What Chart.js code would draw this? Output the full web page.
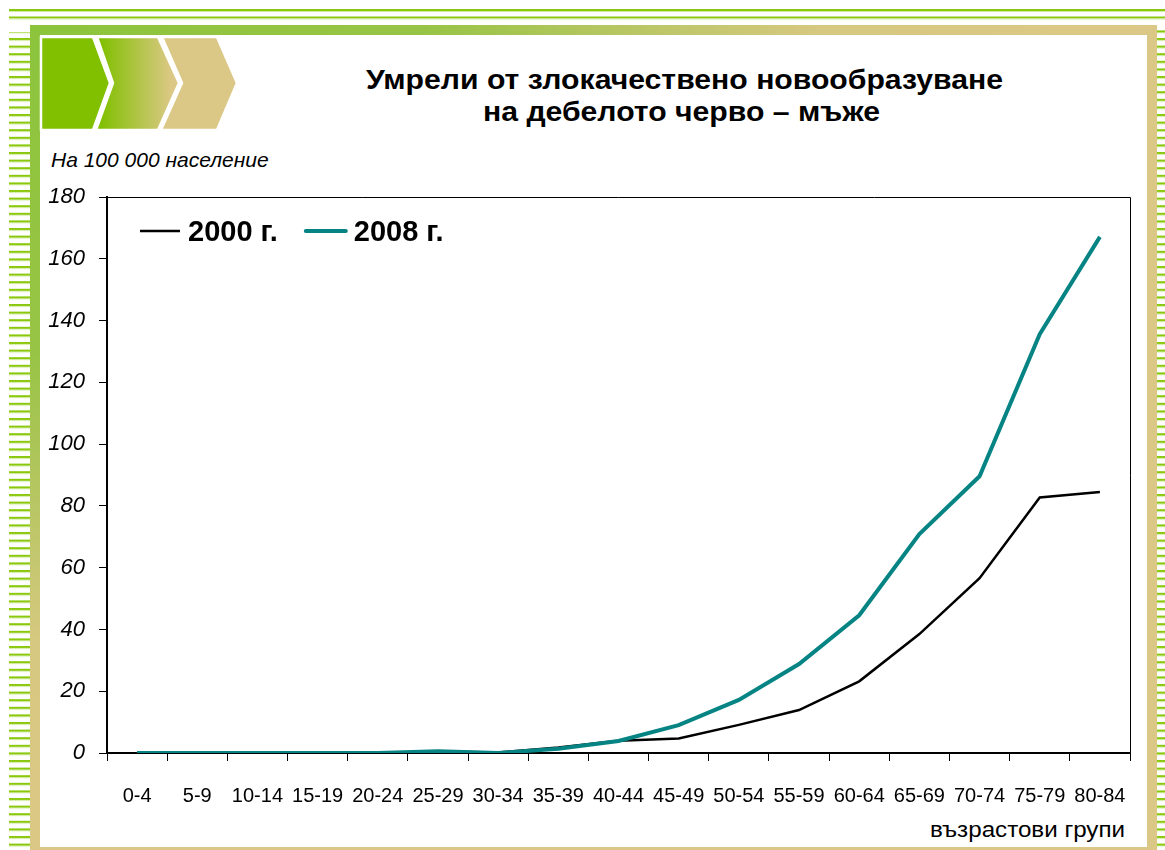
<!DOCTYPE html>
<html>
<head>
<meta charset="utf-8">
<script src="https://cdn.jsdelivr.net/npm/chart.js@4"></script>
<style>
  body { margin: 0; background: #fff; }
  #page { position: relative; width: 1165px; height: 850px; overflow: hidden; }
  #page svg, #page canvas { position: absolute; left: 0; top: 0; }
</style>
</head>
<body>
<div id="page">
  <svg width="1165" height="850">
    <defs>
      <linearGradient id="topBar" x1="0" x2="1">
        <stop offset="0" stop-color="#8cc43c"/>
        <stop offset="0.35" stop-color="#98c445"/>
        <stop offset="0.7" stop-color="#d6c880"/>
        <stop offset="1" stop-color="#dcc886"/>
      </linearGradient>
      <linearGradient id="leftBar" x1="0" y1="0" x2="0" y2="1">
        <stop offset="0" stop-color="#8cc43c"/>
        <stop offset="0.4" stop-color="#98c445"/>
        <stop offset="0.75" stop-color="#d6c880"/>
        <stop offset="1" stop-color="#dcc886"/>
      </linearGradient>
      <linearGradient id="chev2" gradientUnits="userSpaceOnUse" x1="100" y1="0" x2="172" y2="0">
        <stop offset="0" stop-color="#80c000"/>
        <stop offset="1" stop-color="#dcc886"/>
      </linearGradient>
      <pattern id="stripes" width="30" height="7.6" patternUnits="userSpaceOnUse">
        <rect x="0" y="0" width="30" height="2" fill="#8ac80e"/>
        <rect x="0" y="2" width="30" height="1" fill="#d2eaa0"/>
      </pattern>
    </defs>
    <!-- stripes round the frame -->
    <rect x="9" y="9" width="1156" height="2" fill="#8ac80e"/>
    <rect x="9" y="11" width="1156" height="1" fill="#d2eaa0"/>
    <rect x="9" y="16.5" width="1156" height="2" fill="#8ac80e"/>
    <rect x="9" y="18.5" width="1156" height="1" fill="#d2eaa0"/>
    <rect x="9" y="32" width="21" height="818" fill="url(#stripes)"/>
    <rect x="1157" y="26" width="8" height="824" fill="url(#stripes)"/>
    <!-- frame -->
    <rect x="30" y="25" width="1127" height="10" fill="url(#topBar)"/>
    <rect x="30" y="25" width="10" height="825" fill="url(#leftBar)"/>
    <rect x="1147" y="25" width="10" height="825" fill="#dcc886"/>
    <rect x="30" y="847" width="1127" height="3" fill="#dcc886"/>
    <!-- chevrons -->
    <g stroke="#fff" stroke-width="2.5" stroke-linejoin="miter">
      <polygon points="41,37 93,37 110,83 93,130 41,130" fill="#80c000"/>
      <polygon points="97,37 158,37 179,83 158,130 96,130 113,83" fill="url(#chev2)"/>
      <polygon points="162,37 217,37 237,83 217,130 161,130 182,83" fill="#dcc886"/>
    </g>
    <g font-family="Arial, 'Liberation Sans', sans-serif" fill="#000">
      <text x="366" y="89" font-size="27" font-weight="bold" textLength="637" lengthAdjust="spacingAndGlyphs">Умрели от злокачествено новообразуване</text>
      <text x="483" y="121" font-size="27" font-weight="bold" textLength="397" lengthAdjust="spacingAndGlyphs">на дебелото черво – мъже</text>
      <text x="51" y="167" font-size="21" font-style="italic">На 100 000 население</text>
      <text x="930" y="837" font-size="22" textLength="195" lengthAdjust="spacingAndGlyphs">възрастови групи</text>
    </g>
  </svg>
  <canvas id="deathsChart" width="1165" height="850"></canvas>
</div>
<script>
// Age groups and deaths per 100 000 men
const ageGroups = ["0-4", "5-9", "10-14", "15-19", "20-24", "25-29", "30-34", "35-39", "40-44",
  "45-49", "50-54", "55-59", "60-64", "65-69", "70-74", "75-79", "80-84"];
const deaths2000 = [0, 0, 0, 0, 0, 0.5, 0.2, 1.8, 4.0, 4.7, 9.1, 13.9, 23.2, 38.5, 56.6, 82.7, 84.5];
const deaths2008 = [0, 0, 0, 0, 0, 0.6, 0, 1.4, 3.9, 9.0, 17.2, 28.8, 44.6, 70.9, 89.6, 135.6, 167.1];
const yTicks = [0, 20, 40, 60, 80, 100, 120, 140, 160, 180];

const fontFamily = "Arial, 'Liberation Sans', sans-serif";

// top and right edge of the plot box
const plotFrame = {
  id: "plotFrame",
  afterDraw(chart) {
    const { ctx, chartArea: a } = chart;
    ctx.save();
    ctx.strokeStyle = "#000";
    ctx.lineWidth = 1;
    ctx.beginPath();
    ctx.moveTo(a.left, Math.round(a.top) + 0.5);
    ctx.lineTo(Math.round(a.right) + 0.5, Math.round(a.top) + 0.5);
    ctx.lineTo(Math.round(a.right) + 0.5, a.bottom);
    ctx.stroke();
    ctx.restore();
  },
};

// legend drawn inside the plot, one row, line sample + bold label
const lineLegend = {
  id: "lineLegend",
  afterDraw(chart) {
    const { ctx, chartArea: a } = chart;
    let x = a.left + 33;
    const y = a.top + 34;
    ctx.save();
    ctx.font = "bold 29px " + fontFamily;
    ctx.textBaseline = "middle";
    chart.data.datasets.forEach((ds) => {
      ctx.strokeStyle = ds.borderColor;
      ctx.lineWidth = ds.borderWidth;
      ctx.lineCap = ds.borderWidth > 3 ? "round" : "butt";
      ctx.beginPath();
      ctx.moveTo(x, y);
      ctx.lineTo(x + 40, y);
      ctx.stroke();
      ctx.fillStyle = "#000";
      ctx.fillText(ds.label, x + 48, y + 2);
      x += 48 + ctx.measureText(ds.label).width + 28;
    });
    ctx.restore();
  },
};

new Chart(document.getElementById("deathsChart"), {
  type: "line",
  data: {
    labels: ageGroups,
    datasets: [
      {
        label: "2000 г.",
        data: deaths2000,
        borderColor: "#000000",
        backgroundColor: "#000000",
        borderWidth: 2.5,
        pointRadius: 0,
        tension: 0,
        order: 1,
      },
      {
        label: "2008 г.",
        data: deaths2008,
        borderColor: "#068484",
        backgroundColor: "#068484",
        borderWidth: 4,
        pointRadius: 0,
        tension: 0,
        order: 0,
      },
    ],
  },
  options: {
    responsive: false,
    animation: false,
    layout: { padding: { left: 40, right: 35, top: 197, bottom: 0 } },
    plugins: {
      legend: { display: false },
      tooltip: { enabled: false },
    },
    scales: {
      x: {
        offset: true,
        ticks: {
          color: "#000",
          padding: 23,
          autoSkip: false,
          maxRotation: 0,
          font: { family: fontFamily, size: 20 },
        },
        grid: { offset: true, drawOnChartArea: false, tickLength: 8, color: "#000" },
        border: { color: "#000", width: 2 },
        afterFit(scale) {
          scale.height = 97;
        },
      },
      y: {
        min: yTicks[0],
        max: yTicks[yTicks.length - 1],
        afterBuildTicks(scale) {
          scale.ticks = yTicks.map((v) => ({ value: v }));
        },
        ticks: {
          color: "#000",
          padding: 14,
          font: { family: fontFamily, size: 22, style: "italic" },
        },
        grid: { drawOnChartArea: false, tickLength: 8, color: "#000" },
        border: { color: "#000", width: 2 },
        afterFit(scale) {
          scale.width = 67;
        },
      },
    },
  },
  plugins: [plotFrame, lineLegend],
});
</script>
</body>
</html>
